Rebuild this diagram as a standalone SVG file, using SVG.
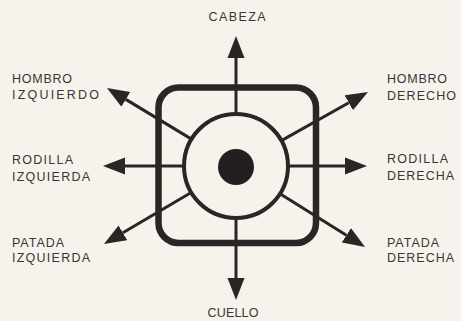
<svg xmlns="http://www.w3.org/2000/svg" width="461" height="321" viewBox="0 0 461 321">
  <style>
    .bg { fill: #f6f3ec; }
    .shape { fill: none; stroke: #2b2526; }
    .spoke { stroke: #2b2526; stroke-width: 3; fill: none; marker-end: url(#arrow); }
    .lbl { font-family: "Liberation Sans", "DejaVu Sans", sans-serif; font-size: 12.5px; fill: #3b3536; }
    .mid { text-anchor: middle; }
  </style>
  <defs>
    <marker id="arrow" markerUnits="userSpaceOnUse" markerWidth="22" markerHeight="18" refX="0" refY="9" orient="auto">
      <path d="M0,0.5 L22,9 L0,17.5 z" fill="#2b2526"/>
    </marker>
  </defs>
  <rect class="bg" x="0" y="0" width="461" height="321"/>

  <g id="connectors">
    <line class="spoke" x1="236" y1="114" x2="236" y2="58"/>
    <line class="spoke" x1="236" y1="218" x2="236" y2="278"/>
    <line class="spoke" x1="184" y1="166" x2="125" y2="166"/>
    <line class="spoke" x1="288" y1="166" x2="345" y2="166"/>
    <line class="spoke" x1="191.5" y1="139.1" x2="125.8" y2="99.4"/>
    <line class="spoke" x1="281.4" y1="140.6" x2="348.8" y2="102.8"/>
    <line class="spoke" x1="191.2" y1="192.5" x2="122.9" y2="232.8"/>
    <line class="spoke" x1="280" y1="193.7" x2="346.4" y2="235.3"/>
  </g>

  <g id="control">
    <rect class="shape" x="158.5" y="87.5" width="157.5" height="155.5" rx="20" stroke-width="6.5"/>
    <circle cx="236" cy="166" r="52" fill="#f6f3ec" stroke="#2b2526" stroke-width="4"/>
    <circle cx="236" cy="167" r="18" fill="#231e1f"/>
  </g>

  <g id="cabeza"><text class="lbl mid" x="237" y="21" textLength="57" lengthAdjust="spacing">CABEZA</text></g>
  <g id="cuello"><text class="lbl mid" x="233" y="317" textLength="51" lengthAdjust="spacing">CUELLO</text></g>

  <g id="hombro-izquierdo">
    <text class="lbl" x="12" y="83" textLength="60" lengthAdjust="spacing">HOMBRO</text>
    <text class="lbl" x="12" y="99" textLength="87" lengthAdjust="spacing">IZQUIERDO</text>
  </g>
  <g id="rodilla-izquierda">
    <text class="lbl" x="12" y="164" textLength="61" lengthAdjust="spacing">RODILLA</text>
    <text class="lbl" x="12" y="181" textLength="78" lengthAdjust="spacing">IZQUIERDA</text>
  </g>
  <g id="patada-izquierda">
    <text class="lbl" x="12" y="247" textLength="52" lengthAdjust="spacing">PATADA</text>
    <text class="lbl" x="12" y="262" textLength="78" lengthAdjust="spacing">IZQUIERDA</text>
  </g>
  <g id="hombro-derecho">
    <text class="lbl" x="387" y="83" textLength="60" lengthAdjust="spacing">HOMBRO</text>
    <text class="lbl" x="387" y="100" textLength="69" lengthAdjust="spacing">DERECHO</text>
  </g>
  <g id="rodilla-derecha">
    <text class="lbl" x="387" y="163" textLength="61" lengthAdjust="spacing">RODILLA</text>
    <text class="lbl" x="387" y="180" textLength="67" lengthAdjust="spacing">DERECHA</text>
  </g>
  <g id="patada-derecha">
    <text class="lbl" x="387" y="247" textLength="52" lengthAdjust="spacing">PATADA</text>
    <text class="lbl" x="387" y="262" textLength="67" lengthAdjust="spacing">DERECHA</text>
  </g>
</svg>
